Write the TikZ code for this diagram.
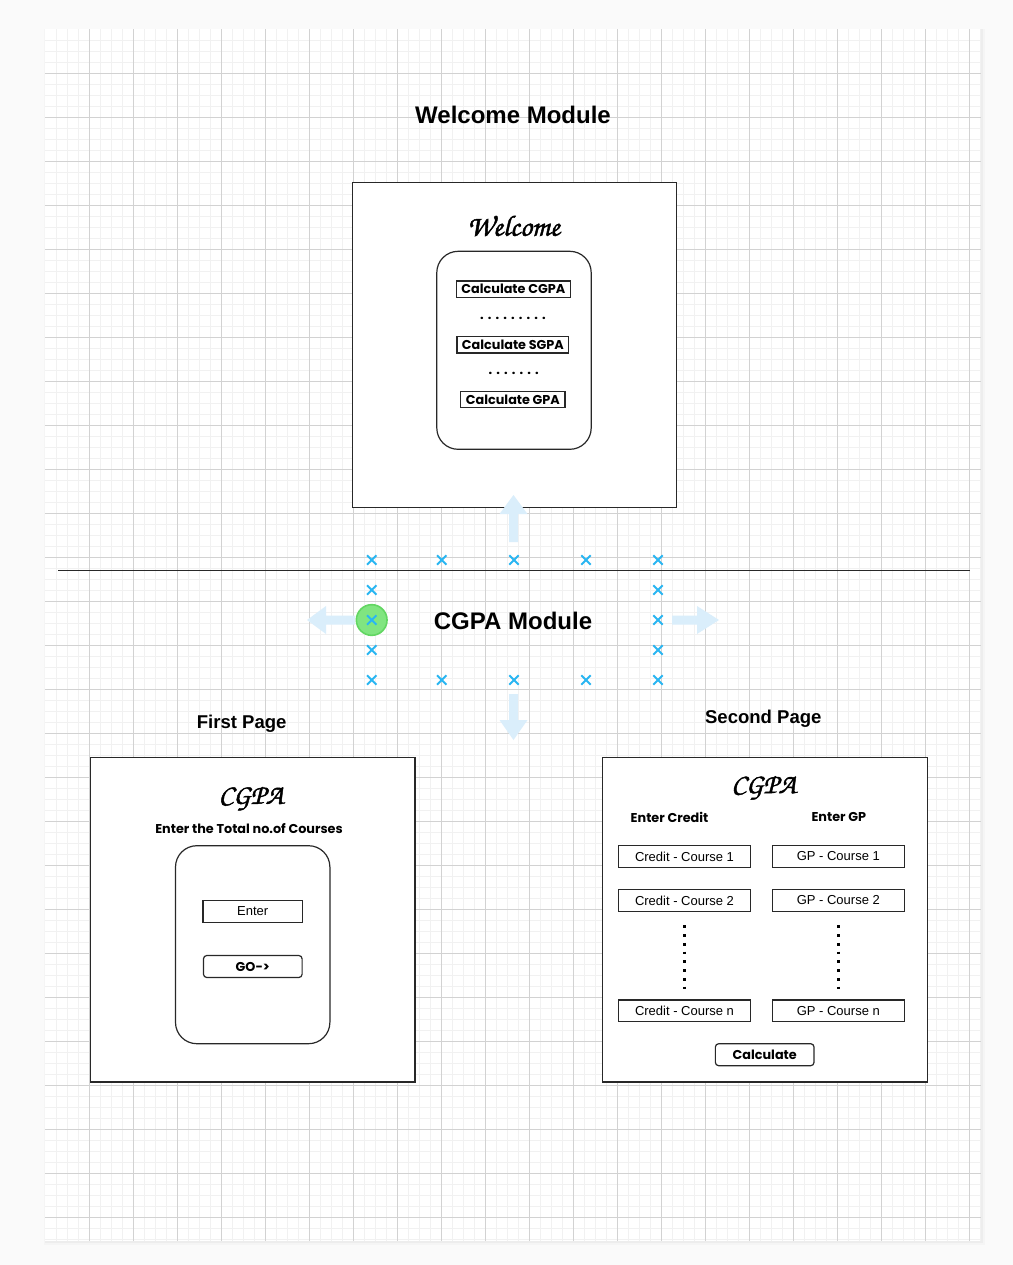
\documentclass[tikz,border=0pt]{standalone}
\usepackage{fontspec}
\setmainfont{Liberation Sans}
\newfontfamily\pop{Poppins}
\newfontfamily\scr{texgyrechorus-mediumitalic.otf}[FakeBold=1.6]
\definecolor{bgc}{RGB}{250,250,250}
\definecolor{minorc}{RGB}{241,241,241}
\definecolor{majorc}{RGB}{210,210,210}
\definecolor{xblue}{RGB}{41,182,242}
\definecolor{hovblue}{RGB}{218,238,251}
\definecolor{gfill}{RGB}{128,229,128}
\definecolor{gdraw}{RGB}{98,214,98}
\definecolor{ink}{RGB}{40,40,40}
\newcommand\mydsp{\hspace{3.1pt}}
\tikzset{
  minorline/.style={draw=minorc, line width=0.75pt},
  majorline/.style={draw=majorc, line width=0.75pt},
  pagebox/.style={draw=ink, line width=0.9pt, fill=white, inner sep=0pt, minimum width=243.5pt, minimum height=243.3pt},
  roundbox/.style={draw=ink, line width=0.9pt, fill=white, rounded corners=16pt, inner sep=0pt, minimum width=115.8pt, minimum height=148.5pt},
  titletext/.style={font=\bfseries\fontsize{18pt}{21pt}\selectfont, text=black},
  subtext/.style={font=\bfseries\fontsize{13.9pt}{16pt}\selectfont, text=black},
  scripttext/.style={font=\scr\fontsize{21pt}{25pt}\selectfont, text=black},
  poptext/.style={font=\pop\bfseries\fontsize{9.6pt}{11pt}\selectfont, text=black},
  smallbtn/.style={draw=ink, line width=0.9pt, fill=white, inner sep=0pt, minimum height=12.5pt, font=\pop\bfseries\fontsize{9.6pt}{11pt}\selectfont},
  field/.style={draw=ink, line width=0.9pt, fill=white, inner sep=0pt, minimum width=99.3pt, minimum height=16.2pt, font=\fontsize{9.75pt}{11pt}\selectfont},
  button/.style={draw=ink, line width=0.9pt, fill=white, inner sep=0pt, rounded corners=2.5pt, minimum width=74pt, minimum height=16.5pt, font=\pop\bfseries\fontsize{9.6pt}{11pt}\selectfont},
  dotline/.style={draw=black, line width=2.1pt, line cap=butt, dash pattern=on 2.1pt off 4.47pt},
  xmark/.style={draw=xblue, line width=1.5pt},
  hoverarrow/.style={fill=hovblue, draw=none},
}
\begin{document}
\begin{tikzpicture}[x=0.75pt,y=-0.75pt]
\useasboundingbox (0,0) rectangle (1013,1265);
\fill[bgc] (0,0) rectangle (1013,1265);
% page with shadow
\fill[black!4] (44,28.5) rectangle (985,1245);
\fill[black!7] (45,29) rectangle (983,1243);
\fill[white] (45.3,29) rectangle (981.3,1240.5);
% grid
\foreach \i in {1,...,85} {\draw[minorline] (45.3+11*\i,29) -- (45.3+11*\i,1240.5);}
\foreach \j in {1,...,110} {\draw[minorline] (45.3,29+11*\j) -- (981.3,29+11*\j);}
\foreach \i in {1,...,21} {\draw[majorline] (45.3+44*\i,29) -- (45.3+44*\i,1240.5);}
\foreach \j in {1,...,27} {\draw[majorline] (45.3,29+44*\j) -- (981.3,29+44*\j);}

% ---------- Welcome module ----------
\node[titletext] (wmtitle) at (513,115) {Welcome Module};
\node[pagebox] (wbox) at (514.5,345) {};
\node[scripttext, font=\scr\fontsize{22pt}{26pt}\selectfont] (wtitle) at (513.6,226) {Welcome};
\node[roundbox] (winner) at (514,350.3) {};
\node[smallbtn, minimum width=85.5pt] (bcgpa) at (513.3,289.3) {Calculate CGPA};
\node[poptext] (dots1) at (512.9,318) {.\mydsp.\mydsp.\mydsp.\mydsp.\mydsp.\mydsp.\mydsp.\mydsp.};
\node[smallbtn, minimum width=83.8pt] (bsgpa) at (512.9,344.6) {Calculate SGPA};
\node[poptext] (dots2) at (513.7,373.3) {.\mydsp.\mydsp.\mydsp.\mydsp.\mydsp.\mydsp.};
\node[smallbtn, minimum width=78.2pt] (bgpa) at (512.9,399.5) {Calculate GPA};

% ---------- hover handles ----------
\fill[hoverarrow] (509,542) -- (509,514) -- (499.5,514) -- (513.5,495) -- (527.5,514) -- (518,514) -- (518,542) -- cycle;
\fill[hoverarrow] (355,615.5) -- (326,615.5) -- (326,606) -- (307,620) -- (326,634) -- (326,624.5) -- (355,624.5) -- cycle;
\fill[hoverarrow] (672,615.5) -- (697,615.5) -- (697,606) -- (719,620) -- (697,634) -- (697,624.5) -- (672,624.5) -- cycle;
\fill[hoverarrow] (509,694) -- (509,720) -- (499.5,720) -- (513.5,740) -- (527.5,720) -- (518,720) -- (518,694) -- cycle;

% divider
\coordinate (divl) at (58,570.7);
\coordinate (divr) at (970,570.7);
\draw[ink, line width=0.9pt] (divl) -- (divr);

% green handle
\node[circle, fill=gfill, draw=gdraw, line width=1.2pt, minimum size=23pt, inner sep=0pt] (ghandle) at (371.7,620) {};

% blue x marks
\foreach \xx in {371.7,441.7,514,586,658} {
  \draw[xmark] (\xx-4.7,555.3) -- (\xx+4.7,564.7) (\xx-4.7,564.7) -- (\xx+4.7,555.3);
  \draw[xmark] (\xx-4.7,675.3) -- (\xx+4.7,684.7) (\xx-4.7,684.7) -- (\xx+4.7,675.3);
}
\foreach \yy in {590,620,650} {
  \draw[xmark] (371.7-4.7,\yy-4.7) -- (371.7+4.7,\yy+4.7) (371.7-4.7,\yy+4.7) -- (371.7+4.7,\yy-4.7);
  \draw[xmark] (658-4.7,\yy-4.7) -- (658+4.7,\yy+4.7) (658-4.7,\yy+4.7) -- (658+4.7,\yy-4.7);
}

\node[titletext] (cmtitle) at (513,621) {CGPA Module};

% ---------- First page ----------
\node[subtext] (fptitle) at (241.7,723.7) {First Page};
\node[pagebox] (fpbox) at (252.65,919.85) {};
\node[scripttext] (fpcgpa) at (251,798.7) {CGPA};
\node[poptext] (fpenter) at (249,828.3) {Enter the Total no.of Courses};
\node[roundbox] (fpinner) at (252.7,944.7) {};
\node[field, minimum width=74.5pt, minimum height=16.8pt] (fpfield) at (252.7,911.5) {Enter};
\node[button] (fpgo) at (252.8,966.5) {GO-{}>};

% ---------- Second page ----------
\node[subtext] (sptitle) at (763.3,718.5) {Second Page};
\node[pagebox] (spbox) at (764.8,919.85) {};
\node[scripttext] (spcgpa) at (763.7,788) {CGPA};
\node[poptext] (spcredit) at (669.5,817.3) {Enter Credit};
\node[poptext] (spgp) at (838.8,817.3) {Enter GP};
\node[field] (c1) at (684.5,856.5) {Credit - Course 1};
\node[field] (c2) at (684.5,900.5) {Credit - Course 2};
\node[field] (cn) at (684.5,1010.7) {Credit - Course n};
\node[field] (g1) at (838.3,856.5) {GP - Course 1};
\node[field] (g2) at (838.3,900.5) {GP - Course 2};
\node[field] (gn) at (838.3,1010.7) {GP - Course n};
\draw[dotline] ([yshift=-10pt]c2.south) -- ([yshift=8pt]cn.north);
\draw[dotline] ([yshift=-10pt]g2.south) -- ([yshift=8pt]gn.north);
\node[button] (calc) at (764.7,1054.7) {Calculate};
\end{tikzpicture}
\end{document}
